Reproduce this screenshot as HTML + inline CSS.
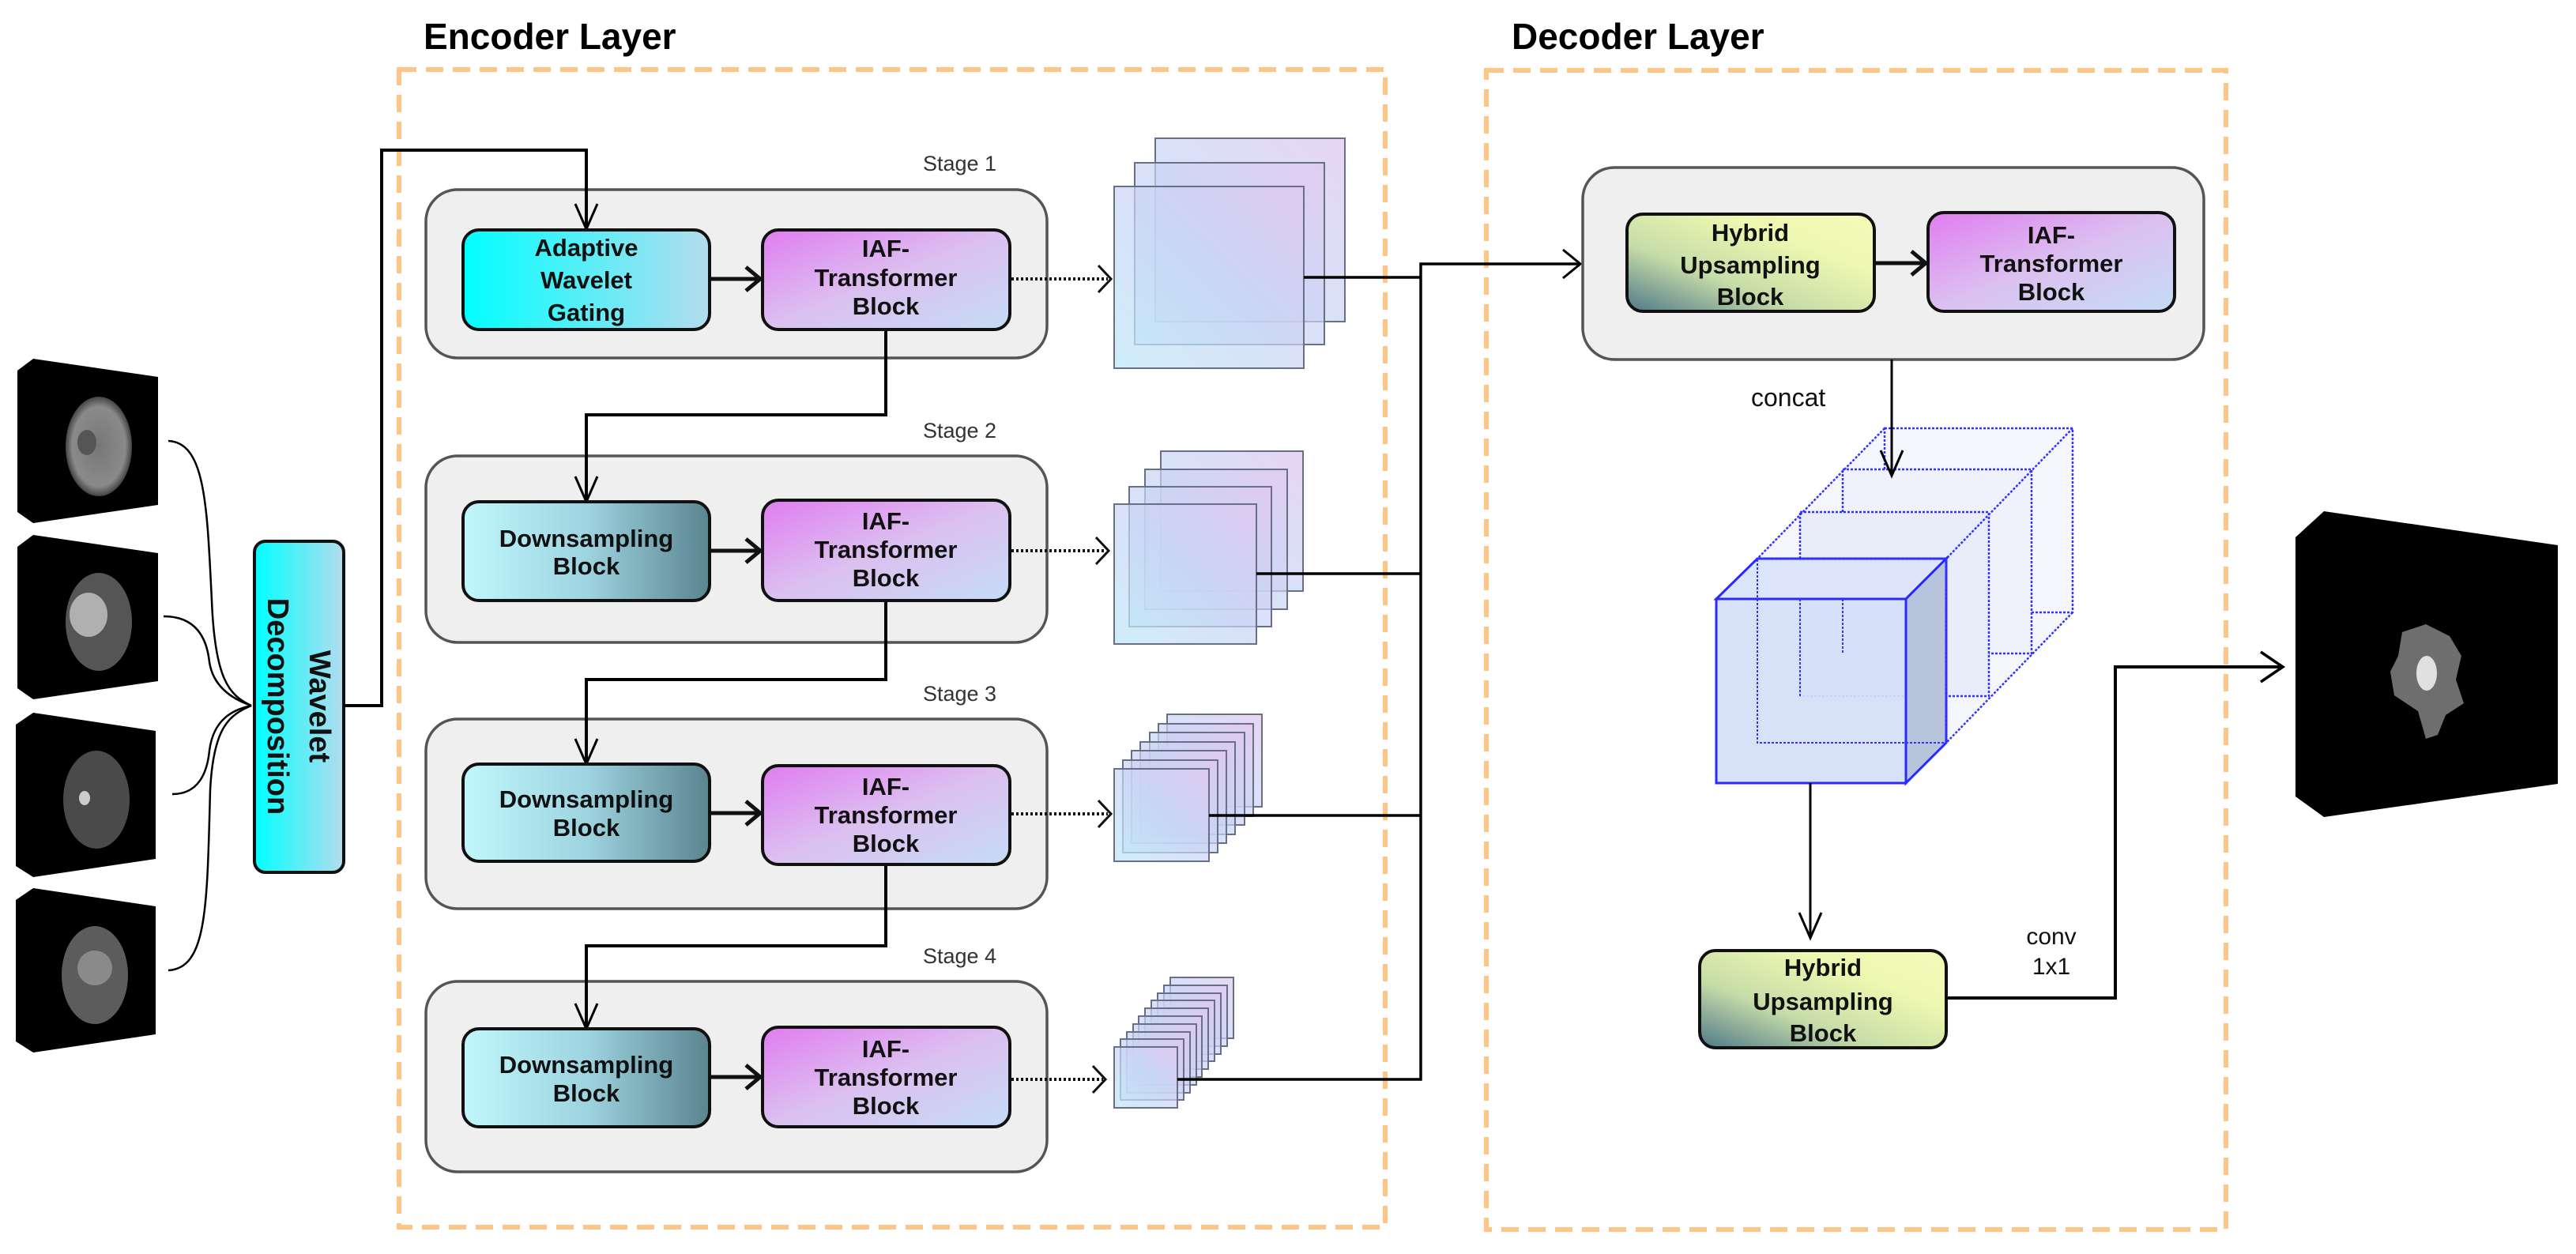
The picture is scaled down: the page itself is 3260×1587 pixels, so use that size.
<!DOCTYPE html>
<html><head><meta charset="utf-8"><style>
html,body{margin:0;padding:0;background:#fff;}
svg{display:block;}
text{font-family:"Liberation Sans",Arial,sans-serif;}
.bt{font-weight:bold;font-size:31px;fill:#111;text-anchor:middle;}
</style></head><body>
<svg width="3260" height="1587" viewBox="0 0 3260 1587" xmlns="http://www.w3.org/2000/svg">
<defs>
<linearGradient id="gAW" x1="0" y1="0" x2="1" y2="0"><stop offset="0" stop-color="#00ffff"/><stop offset="1" stop-color="#b4dcee"/></linearGradient>
<linearGradient id="gIAF" x1="0" y1="0" x2="1" y2="1"><stop offset="0" stop-color="#e07cf0"/><stop offset="0.5" stop-color="#dcc0f0"/><stop offset="1" stop-color="#c4dcf6"/></linearGradient>
<linearGradient id="gDS" x1="0" y1="0" x2="1" y2="0"><stop offset="0" stop-color="#c0f6fc"/><stop offset="0.5" stop-color="#9ed4e0"/><stop offset="1" stop-color="#5a8490"/></linearGradient>
<linearGradient id="gHY" x1="0" y1="1" x2="1" y2="0"><stop offset="0" stop-color="#4e7888"/><stop offset="0.35" stop-color="#c6dca8"/><stop offset="0.7" stop-color="#eef8b0"/><stop offset="1" stop-color="#f4faba"/></linearGradient>
<linearGradient id="gWD" x1="0" y1="0" x2="1" y2="0"><stop offset="0" stop-color="#00ffff"/><stop offset="1" stop-color="#b4dcee"/></linearGradient>
<linearGradient id="gFM" x1="0" y1="1" x2="1" y2="0"><stop offset="0" stop-color="#bfe8f8" stop-opacity="0.75"/><stop offset="0.5" stop-color="#c8d4f4" stop-opacity="0.7"/><stop offset="1" stop-color="#e0c8f0" stop-opacity="0.75"/></linearGradient>
<radialGradient id="gBr" cx="0.5" cy="0.5" r="0.5"><stop offset="0" stop-color="#777"/><stop offset="0.8" stop-color="#8a8a8a"/><stop offset="1" stop-color="#444"/></radialGradient>
</defs>

<text x="536" y="62" font-size="46" font-weight="bold" fill="#000">Encoder Layer</text>
<text x="1913" y="62" font-size="46" font-weight="bold" fill="#000">Decoder Layer</text>

<rect x="505" y="88" width="1248" height="1465" fill="none" stroke="#fdc587" stroke-width="6" stroke-dasharray="22,12"/>
<rect x="1881" y="89" width="936" height="1467" fill="none" stroke="#fdc587" stroke-width="6" stroke-dasharray="22,12"/>

<!-- MRI slabs -->
<g>
<polygon points="42,454 200,477 200,639 42,662 22,648 22,469" fill="#000"/>
<ellipse cx="125" cy="565" rx="42" ry="63" fill="url(#gBr)"/>
<ellipse cx="110" cy="560" rx="12" ry="16" fill="#555"/>
<polygon points="42,677 200,700 200,862 42,885 22,871 22,692" fill="#000"/>
<ellipse cx="125" cy="787" rx="42" ry="62" fill="#555"/>
<ellipse cx="112" cy="778" rx="24" ry="28" fill="#b0b0b0"/>
<polygon points="42,902 197,925 197,1087 42,1110 20,1096 20,917" fill="#000"/>
<ellipse cx="122" cy="1012" rx="42" ry="62" fill="#4a4a4a"/>
<ellipse cx="107" cy="1010" rx="7" ry="9" fill="#ccc"/>
<polygon points="42,1124 197,1147 197,1309 42,1332 20,1318 20,1139" fill="#000"/>
<ellipse cx="120" cy="1234" rx="42" ry="62" fill="#5c5c5c"/>
<ellipse cx="120" cy="1225" rx="22" ry="22" fill="#8a8a8a"/>
</g>

<g fill="none" stroke="#000" stroke-width="2.5">
<path d="M213,558 C260,560 262,640 268,760 C272,860 290,880 318,893"/>
<path d="M207,780 C250,780 262,810 265,838 C270,870 295,885 318,893"/>
<path d="M218,1005 C250,1005 262,980 265,950 C270,910 295,898 318,893"/>
<path d="M213,1228 C262,1225 262,1150 266,1000 C270,920 290,905 318,893"/>
</g>

<rect x="322" y="685" width="113" height="419" rx="14" fill="url(#gWD)" stroke="#111" stroke-width="4"/>
<text transform="translate(402,894) rotate(90)" font-size="38" font-weight="bold" text-anchor="middle" dominant-baseline="middle" fill="#111">Wavelet</text>
<text transform="translate(349,894) rotate(90)" font-size="38" font-weight="bold" text-anchor="middle" dominant-baseline="middle" fill="#111">Decomposition</text>

<!-- stage containers -->
<g fill="#efefef" stroke="#555" stroke-width="3.5">
<rect x="539" y="240" width="786" height="213" rx="40"/>
<rect x="539" y="577" width="786" height="236" rx="40"/>
<rect x="539" y="910" width="786" height="240" rx="40"/>
<rect x="539" y="1242" width="786" height="241" rx="40"/>
</g>
<g font-size="27" fill="#333">
<text x="1168" y="216">Stage 1</text>
<text x="1168" y="554">Stage 2</text>
<text x="1168" y="887">Stage 3</text>
<text x="1168" y="1219">Stage 4</text>
</g>

<!-- connectors -->
<g fill="none" stroke="#000" stroke-width="4">
<polyline points="435,893 483,893 483,190 742,190 742,288"/>
<polyline points="1121,417 1121,525 742,525 742,633"/>
<polyline points="1121,760 1121,860 742,860 742,965"/>
<polyline points="1121,1090 1121,1197 742,1197 742,1300"/>
</g>
<g fill="none" stroke="#000" stroke-width="3">
<polyline points="728,258 742,290 756,258"/>
<polyline points="728,603 742,635 756,603"/>
<polyline points="728,935 742,967 756,935"/>
<polyline points="728,1270 742,1302 756,1270"/>
</g>

<!-- inner blocks -->
<g stroke="#111" stroke-width="4">
<rect x="586" y="291" width="312" height="126" rx="20" fill="url(#gAW)"/>
<rect x="965" y="291" width="313" height="126" rx="20" fill="url(#gIAF)"/>
<rect x="586" y="635" width="312" height="125" rx="20" fill="url(#gDS)"/>
<rect x="965" y="633" width="313" height="127" rx="20" fill="url(#gIAF)"/>
<rect x="586" y="967" width="312" height="123" rx="20" fill="url(#gDS)"/>
<rect x="965" y="969" width="313" height="125" rx="20" fill="url(#gIAF)"/>
<rect x="586" y="1302" width="312" height="124" rx="20" fill="url(#gDS)"/>
<rect x="965" y="1300" width="313" height="126" rx="20" fill="url(#gIAF)"/>
</g>
<g>
<text class="bt" x="742" y="324">Adaptive</text><text class="bt" x="742" y="365">Wavelet</text><text class="bt" x="742" y="406">Gating</text>
<text class="bt" x="1121" y="325">IAF-</text><text class="bt" x="1121" y="362">Transformer</text><text class="bt" x="1121" y="398">Block</text>
<text class="bt" x="742" y="692">Downsampling</text><text class="bt" x="742" y="727">Block</text>
<text class="bt" x="1121" y="670">IAF-</text><text class="bt" x="1121" y="706">Transformer</text><text class="bt" x="1121" y="742">Block</text>
<text class="bt" x="742" y="1022">Downsampling</text><text class="bt" x="742" y="1058">Block</text>
<text class="bt" x="1121" y="1006">IAF-</text><text class="bt" x="1121" y="1042">Transformer</text><text class="bt" x="1121" y="1078">Block</text>
<text class="bt" x="742" y="1358">Downsampling</text><text class="bt" x="742" y="1394">Block</text>
<text class="bt" x="1121" y="1338">IAF-</text><text class="bt" x="1121" y="1374">Transformer</text><text class="bt" x="1121" y="1410">Block</text>
</g>

<g fill="none" stroke="#111" stroke-width="5">
<line x1="898" y1="353" x2="960" y2="353"/><polyline points="944,338 962,353 944,368"/>
<line x1="898" y1="697" x2="960" y2="697"/><polyline points="944,682 962,697 944,712"/>
<line x1="898" y1="1029" x2="960" y2="1029"/><polyline points="944,1014 962,1029 944,1044"/>
<line x1="898" y1="1363" x2="960" y2="1363"/><polyline points="944,1348 962,1363 944,1378"/>
</g>
<g fill="none" stroke="#111" stroke-width="4">
<line x1="1280" y1="353" x2="1402" y2="353" stroke-dasharray="3,3"/><polyline points="1390,336 1406,353 1390,370" stroke-width="3"/>
<line x1="1280" y1="697" x2="1400" y2="697" stroke-dasharray="3,3"/><polyline points="1387,680 1403,697 1387,714" stroke-width="3"/>
<line x1="1280" y1="1030" x2="1402" y2="1030" stroke-dasharray="3,3"/><polyline points="1390,1013 1406,1030 1390,1047" stroke-width="3"/>
<line x1="1280" y1="1366" x2="1396" y2="1366" stroke-dasharray="3,3"/><polyline points="1383,1349 1399,1366 1383,1383" stroke-width="3"/>
</g>

<!-- feature maps -->
<g fill="url(#gFM)" stroke="#6a6f88" stroke-width="2">
<rect x="1462" y="175" width="240" height="232"/>
<rect x="1436" y="206" width="240" height="230"/>
<rect x="1410" y="236" width="240" height="230"/>
<rect x="1469" y="571" width="180" height="177"/>
<rect x="1449" y="594" width="180" height="177"/>
<rect x="1429" y="616" width="180" height="177"/>
<rect x="1410" y="638" width="180" height="177"/>
<rect x="1477" y="904" width="120" height="117"/>
<rect x="1466" y="916" width="120" height="117"/>
<rect x="1455" y="927" width="120" height="117"/>
<rect x="1443" y="939" width="120" height="117"/>
<rect x="1432" y="950" width="120" height="117"/>
<rect x="1421" y="962" width="120" height="117"/>
<rect x="1410" y="973" width="120" height="117"/>
<rect x="1481" y="1237" width="80" height="77"/>
<rect x="1473" y="1247" width="80" height="77"/>
<rect x="1465" y="1257" width="80" height="77"/>
<rect x="1457" y="1266" width="80" height="77"/>
<rect x="1449" y="1276" width="80" height="77"/>
<rect x="1441" y="1286" width="80" height="77"/>
<rect x="1434" y="1296" width="80" height="77"/>
<rect x="1426" y="1306" width="80" height="77"/>
<rect x="1418" y="1315" width="80" height="77"/>
<rect x="1410" y="1325" width="80" height="77"/>
</g>

<g fill="none" stroke="#000" stroke-width="3.5">
<polyline points="1650,351 1798,351"/>
<polyline points="1590,726 1798,726"/>
<polyline points="1530,1032 1798,1032"/>
<polyline points="1490,1366 1798,1366 1798,334 1998,334"/>
<polyline points="1978,316 2000,334 1978,352" stroke-width="3"/>
</g>

<rect x="2003" y="212" width="786" height="243" rx="40" fill="#efefef" stroke="#555" stroke-width="3.5"/>
<rect x="2059" y="271" width="313" height="123" rx="20" fill="url(#gHY)" stroke="#111" stroke-width="4"/>
<rect x="2440" y="269" width="312" height="125" rx="20" fill="url(#gIAF)" stroke="#111" stroke-width="4"/>
<text class="bt" x="2215" y="305">Hybrid</text><text class="bt" x="2215" y="346">Upsampling</text><text class="bt" x="2215" y="386">Block</text>
<text class="bt" x="2596" y="308">IAF-</text><text class="bt" x="2596" y="344">Transformer</text><text class="bt" x="2596" y="380">Block</text>
<g fill="none" stroke="#111" stroke-width="5">
<line x1="2372" y1="333" x2="2435" y2="333"/><polyline points="2419,318 2437,333 2419,348"/>
</g>
<text x="2216" y="514" font-size="32" fill="#111">concat</text>

<!-- cube -->
<g stroke="#3333ff" stroke-width="2.5" stroke-dasharray="3,2">
<polygon points="2385,542 2623,542 2623,775 2412,991 2172,991 2172,758" fill="#f4f6fc" stroke="none"/>
<rect x="2385" y="542" width="238" height="233" fill="#f5f7fd"/>
<rect x="2332" y="594" width="239" height="233" fill="#eff2fb"/>
<rect x="2278" y="648" width="239" height="233" fill="#e9edfa"/>
<line x1="2385" y1="542" x2="2224" y2="707"/>
<line x1="2623" y1="542" x2="2463" y2="707"/>
<line x1="2623" y1="775" x2="2463" y2="940"/>
</g>
<g stroke="#2a2aff" stroke-width="3">
<polygon points="2224,707 2463,707 2412,758 2172,758" fill="#dbe4f8"/>
<polygon points="2412,758 2463,707 2463,940 2412,991" fill="#b8c4dc"/>
<rect x="2172" y="758" width="240" height="233" fill="#d4e0f8" fill-opacity="0.92"/>
</g>
<g stroke="#3333ff" stroke-width="2" stroke-dasharray="3,2" fill="none">
<rect x="2224" y="707" width="239" height="233"/>
<line x1="2278" y1="758" x2="2278" y2="881"/><line x1="2332" y1="758" x2="2332" y2="827"/>
</g>

<line x1="2394" y1="455" x2="2394" y2="600" stroke="#000" stroke-width="3"/>
<polyline points="2380,570 2394,602 2408,570" fill="none" stroke="#000" stroke-width="3"/>

<line x1="2291" y1="991" x2="2291" y2="1185" stroke="#000" stroke-width="3"/>
<polyline points="2277,1155 2291,1187 2305,1155" fill="none" stroke="#000" stroke-width="3"/>

<rect x="2151" y="1203" width="312" height="123" rx="20" fill="url(#gHY)" stroke="#111" stroke-width="4"/>
<text class="bt" x="2307" y="1235">Hybrid</text><text class="bt" x="2307" y="1278">Upsampling</text><text class="bt" x="2307" y="1318">Block</text>
<text x="2596" y="1195" font-size="30" fill="#111" text-anchor="middle">conv</text>
<text x="2596" y="1233" font-size="30" fill="#111" text-anchor="middle">1x1</text>
<polyline points="2463,1263 2677,1263 2677,844 2887,844" fill="none" stroke="#000" stroke-width="4"/>
<polyline points="2861,825 2889,844 2861,863" fill="none" stroke="#000" stroke-width="3.5"/>

<polygon points="2941,647 3237,690 3237,992 2941,1034 2905,1008 2905,680" fill="#000"/>
<path d="M3040,800 L3070,790 L3100,805 L3115,830 L3108,860 L3118,890 L3095,905 L3085,930 L3070,935 L3060,900 L3030,880 L3025,850 L3035,830 Z" fill="#6e6e6e"/>
<ellipse cx="3071" cy="852" rx="13" ry="22" fill="#e0e0e0"/>
</svg>
</body></html>
